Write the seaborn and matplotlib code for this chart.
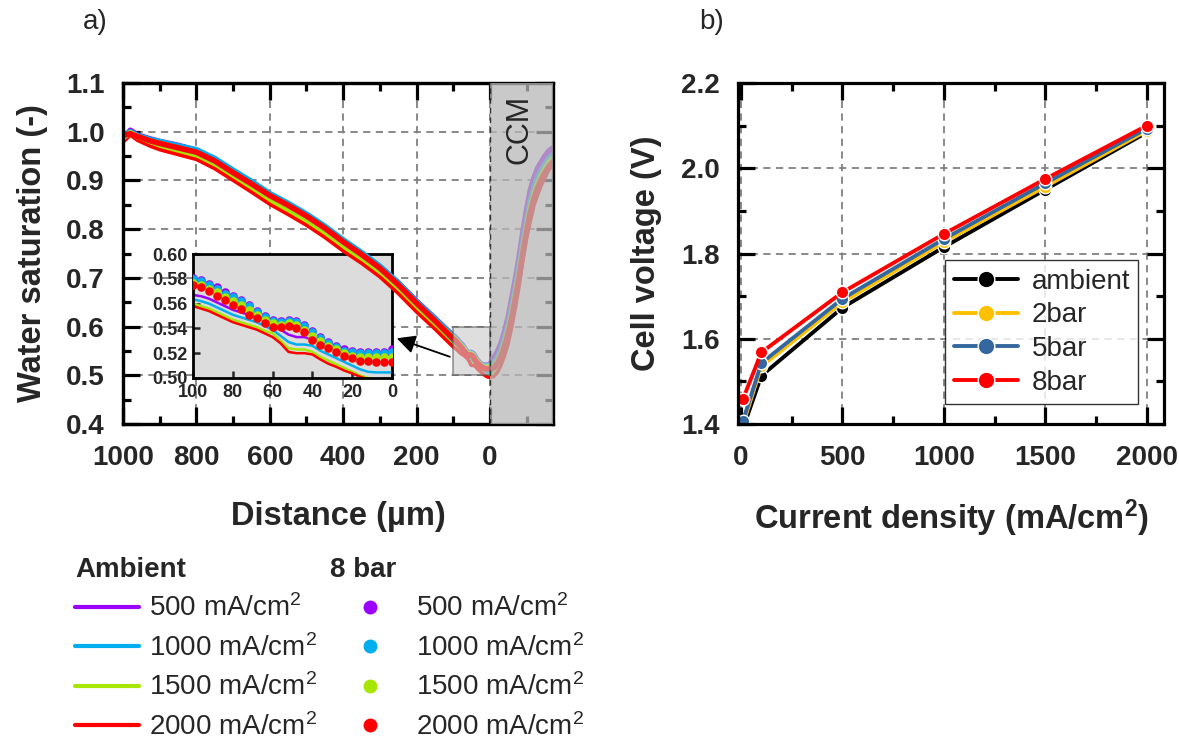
import matplotlib
matplotlib.use('Agg')
import matplotlib.pyplot as plt
from matplotlib.lines import Line2D
from matplotlib.patches import Rectangle
from matplotlib.ticker import MultipleLocator
import pandas as pd
import seaborn as sns

sns.set_style('white')
plt.rcParams['font.family'] = ['Liberation Sans', 'DejaVu Sans']
plt.rcParams['mathtext.default'] = 'regular'

# ---------------- Panel a data ----------------
dist_main = [1000, 980, 960, 925, 900, 850, 800, 750, 700, 650, 600, 550, 500, 450, 400, 350, 300, 250, 200, 150]
dist_zoom = [100, 96, 92, 88, 84, 80, 76, 72, 68, 64, 60, 56, 52, 48, 44, 40, 36, 32, 28, 24, 20, 16, 12, 8, 4, 0]
dist_ccm = [-10, -20, -30, -40, -50, -60, -70, -80, -90, -100, -110, -120, -130, -140, -150, -160, -170]

# 8 bar (dots)
b500_main = [0.985, 1.003, 0.993, 0.985, 0.980, 0.972, 0.962, 0.944, 0.920, 0.897, 0.872, 0.852, 0.830, 0.805, 0.777, 0.751, 0.723, 0.690, 0.652, 0.617]
b1000_main = [0.990, 1.000, 0.992, 0.984, 0.980, 0.971, 0.963, 0.945, 0.921, 0.898, 0.873, 0.853, 0.831, 0.806, 0.778, 0.752, 0.724, 0.690, 0.651, 0.616]
b1500_main = [0.988, 0.998, 0.990, 0.980, 0.976, 0.966, 0.957, 0.938, 0.914, 0.891, 0.866, 0.846, 0.824, 0.799, 0.771, 0.746, 0.718, 0.684, 0.646, 0.611]
b2000_main = [0.992, 0.996, 0.990, 0.981, 0.976, 0.967, 0.958, 0.940, 0.916, 0.893, 0.869, 0.849, 0.827, 0.802, 0.774, 0.748, 0.720, 0.686, 0.648, 0.612]
b500_zoom = [0.581, 0.579, 0.576, 0.573, 0.569, 0.566, 0.563, 0.559, 0.554, 0.550, 0.547, 0.546, 0.547, 0.546, 0.543, 0.538, 0.533, 0.529, 0.526, 0.523, 0.522, 0.521, 0.521, 0.521, 0.521, 0.523]
b1000_zoom = [0.580, 0.578, 0.575, 0.572, 0.568, 0.565, 0.562, 0.558, 0.553, 0.549, 0.546, 0.545, 0.546, 0.545, 0.542, 0.537, 0.532, 0.528, 0.525, 0.522, 0.521, 0.520, 0.520, 0.520, 0.520, 0.521]
b1500_zoom = [0.577, 0.575, 0.572, 0.569, 0.565, 0.562, 0.559, 0.555, 0.551, 0.547, 0.544, 0.543, 0.544, 0.543, 0.539, 0.534, 0.530, 0.526, 0.523, 0.520, 0.518, 0.517, 0.517, 0.517, 0.517, 0.517]
b2000_zoom = [0.575, 0.573, 0.570, 0.566, 0.563, 0.559, 0.556, 0.551, 0.548, 0.544, 0.541, 0.541, 0.542, 0.540, 0.537, 0.531, 0.527, 0.524, 0.521, 0.518, 0.516, 0.514, 0.514, 0.513, 0.513, 0.513]
b500_ccm = [0.535, 0.548, 0.565, 0.590, 0.620, 0.660, 0.700, 0.745, 0.795, 0.840, 0.880, 0.905, 0.925, 0.938, 0.950, 0.960, 0.966]
b1000_ccm = [0.525, 0.536, 0.552, 0.576, 0.604, 0.641, 0.680, 0.725, 0.772, 0.817, 0.857, 0.885, 0.906, 0.921, 0.934, 0.945, 0.952]
b1500_ccm = [0.518, 0.528, 0.543, 0.566, 0.593, 0.629, 0.668, 0.712, 0.760, 0.804, 0.843, 0.872, 0.894, 0.910, 0.924, 0.936, 0.944]
b2000_ccm = [0.515, 0.524, 0.538, 0.560, 0.586, 0.621, 0.660, 0.703, 0.752, 0.796, 0.834, 0.863, 0.885, 0.902, 0.916, 0.928, 0.937]

# Ambient (lines)
a500_main = [0.980, 0.999, 0.989, 0.979, 0.974, 0.965, 0.955, 0.936, 0.912, 0.889, 0.864, 0.843, 0.821, 0.796, 0.768, 0.743, 0.715, 0.681, 0.643, 0.607]
a1000_main = [0.985, 0.997, 0.988, 0.977, 0.972, 0.962, 0.952, 0.933, 0.909, 0.886, 0.861, 0.840, 0.818, 0.793, 0.765, 0.740, 0.712, 0.678, 0.640, 0.604]
a1500_main = [0.983, 0.995, 0.985, 0.974, 0.968, 0.958, 0.948, 0.929, 0.905, 0.882, 0.857, 0.836, 0.814, 0.789, 0.761, 0.736, 0.708, 0.674, 0.636, 0.600]
a2000_main = [0.978, 0.993, 0.982, 0.970, 0.963, 0.953, 0.943, 0.924, 0.900, 0.876, 0.851, 0.830, 0.808, 0.783, 0.755, 0.730, 0.702, 0.668, 0.630, 0.595]
a500_zoom = [0.567, 0.566, 0.564, 0.561, 0.558, 0.555, 0.553, 0.551, 0.549, 0.546, 0.543, 0.539, 0.535, 0.533, 0.533, 0.531, 0.529, 0.526, 0.523, 0.521, 0.519, 0.518, 0.518, 0.518, 0.518, 0.519]
a1000_zoom = [0.5635, 0.562, 0.560, 0.557, 0.554, 0.551, 0.549, 0.547, 0.545, 0.542, 0.539, 0.534, 0.529, 0.527, 0.527, 0.526, 0.522, 0.519, 0.516, 0.513, 0.510, 0.507, 0.505, 0.5045, 0.5045, 0.5045]
a1500_zoom = [0.560, 0.558, 0.556, 0.553, 0.550, 0.547, 0.545, 0.543, 0.541, 0.538, 0.536, 0.530, 0.524, 0.523, 0.523, 0.521, 0.517, 0.514, 0.511, 0.508, 0.505, 0.502, 0.500, 0.499, 0.498, 0.498]
a2000_zoom = [0.558, 0.556, 0.554, 0.551, 0.548, 0.545, 0.543, 0.541, 0.539, 0.536, 0.533, 0.528, 0.521, 0.520, 0.520, 0.519, 0.515, 0.5115, 0.509, 0.506, 0.5037, 0.501, 0.499, 0.497, 0.496, 0.496]
a500_ccm = [0.530, 0.543, 0.560, 0.585, 0.614, 0.653, 0.693, 0.738, 0.787, 0.832, 0.872, 0.898, 0.919, 0.933, 0.945, 0.955, 0.961]
a1000_ccm = [0.512, 0.522, 0.538, 0.561, 0.589, 0.626, 0.665, 0.709, 0.757, 0.802, 0.842, 0.872, 0.895, 0.911, 0.925, 0.937, 0.945]
a1500_ccm = [0.503, 0.512, 0.528, 0.550, 0.577, 0.612, 0.652, 0.696, 0.745, 0.790, 0.828, 0.859, 0.882, 0.900, 0.914, 0.927, 0.937]
a2000_ccm = [0.497, 0.505, 0.520, 0.540, 0.565, 0.600, 0.640, 0.685, 0.735, 0.780, 0.815, 0.848, 0.870, 0.890, 0.905, 0.920, 0.932]

cd_labels = ['500 mA/cm$^2$', '1000 mA/cm$^2$', '1500 mA/cm$^2$', '2000 mA/cm$^2$']
cd_colors = ['#9B00FF', '#00AEEF', '#A6E600', '#FF0000']

# ---------------- Panel b data ----------------
current = [10, 100, 500, 1000, 1500, 2000]
v_ambient = [1.39, 1.513, 1.673, 1.815, 1.950, 2.084]
v_2bar = [1.400, 1.535, 1.686, 1.827, 1.957, 2.088]
v_5bar = [1.408, 1.543, 1.694, 1.834, 1.965, 2.093]
v_8bar = [1.459, 1.568, 1.709, 1.846, 1.975, 2.100]
p_labels = ['ambient', '2bar', '5bar', '8bar']
p_colors = ['#000000', '#FFC000', '#34679E', '#FF0000']

# ---------------- figure ----------------
W, H = 1179, 740
fig = plt.figure(figsize=(W / 100, H / 100), dpi=100)
fig.patch.set_facecolor('white')

def rect(x0, y0, x1, y1):
    return [x0 / W, 1 - y1 / H, (x1 - x0) / W, (y1 - y0) / H]

grid_kw = dict(color='#808080', linestyle=(0, (4, 3)), linewidth=1.3)
TICK_FS = 20
LAB_FS = 23.5

def style_axes(ax):
    for s in ax.spines.values():
        s.set_linewidth(2.3)
        s.set_color('black')
    ax.tick_params(which='both', direction='in', top=True, right=True,
                   bottom=True, left=True, color='black')
    ax.tick_params(which='major', length=12, width=2.3, labelsize=TICK_FS)
    ax.tick_params(which='minor', length=6, width=2.3)
    ax.tick_params(axis='y', which='major', pad=13)
    ax.tick_params(axis='x', which='major', pad=15)
    for lab in ax.get_xticklabels() + ax.get_yticklabels():
        lab.set_fontweight('bold')

main_rect = rect(123, 83, 553, 424)
ax_a = fig.add_axes(main_rect)
ax_a.set_xlim(1000, -172)
ax_a.set_ylim(0.4, 1.1)
ax_a.xaxis.set_major_locator(MultipleLocator(200))
ax_a.xaxis.set_minor_locator(MultipleLocator(100))
ax_a.yaxis.set_major_locator(MultipleLocator(0.1))
ax_a.yaxis.set_minor_locator(MultipleLocator(0.05))
ax_a.set_xticks([1000, 800, 600, 400, 200, 0])
ax_a.set_xticklabels(['1000', '800', '600', '400', '200', '0'])
ax_a.yaxis.set_major_formatter(matplotlib.ticker.FormatStrFormatter('%.1f'))
ax_a.grid(True, which='major', **grid_kw)
style_axes(ax_a)
ax_a.set_xlabel('Distance (µm)', fontsize=LAB_FS, fontweight='bold')
ax_a.set_ylabel('Water saturation (-)', fontsize=LAB_FS, fontweight='bold')
ax_a.xaxis.set_label_coords(0.5, -0.225)
ax_a.yaxis.set_label_coords(-0.175, 0.5)
ax_a.set_zorder(1)

# inset
ax_in = fig.add_axes(rect(193, 254, 392, 378))
ax_in.set_zorder(2)
ax_in.set_facecolor('#DCDCDC')

# overlay for profile curves (drawn above inset)
ax_t = fig.add_axes(main_rect)
ax_t.set_zorder(3)
ax_t.patch.set_visible(False)
ax_t.set_xlim(1000, -172)
ax_t.set_ylim(0.4, 1.1)
ax_t.set_xticks([])
ax_t.set_yticks([])
for s in ax_t.spines.values():
    s.set_linewidth(2.3)
    s.set_color('black')

b_main = [b500_main, b1000_main, b1500_main, b2000_main]
b_zoom = [b500_zoom, b1000_zoom, b1500_zoom, b2000_zoom]
b_ccm = [b500_ccm, b1000_ccm, b1500_ccm, b2000_ccm]
a_main = [a500_main, a1000_main, a1500_main, a2000_main]
a_zoom = [a500_zoom, a1000_zoom, a1500_zoom, a2000_zoom]
a_ccm = [a500_ccm, a1000_ccm, a1500_ccm, a2000_ccm]
dist_all = dist_main + dist_zoom + dist_ccm

for i in range(4):
    sns.lineplot(x=dist_all, y=a_main[i] + a_zoom[i] + a_ccm[i], ax=ax_t,
                 color=cd_colors[i], lw=2.5, sort=False, estimator=None, zorder=2)
for i in range(4):
    sns.lineplot(x=dist_all, y=b_main[i] + b_zoom[i] + b_ccm[i], ax=ax_t,
                 color=cd_colors[i], lw=4.0, sort=False, estimator=None, zorder=2)

ax_t.axvspan(0, -172, facecolor='#B8B8B8', alpha=0.75, lw=0, zorder=3)
ax_t.axvline(0, color='#333333', lw=1.0, ls=(0, (4, 3)), zorder=4)
ax_t.add_patch(Rectangle((100, 0.5), -100, 0.1, facecolor='#C8C8C8', alpha=0.6,
                         edgecolor='#555555', lw=1.2, zorder=3))
ax_t.text(-82, 1.075, 'CCM', rotation=90, ha='center', va='top', fontsize=22, zorder=5)
ax_t.annotate('', xy=(254, 0.576), xytext=(109, 0.538),
              arrowprops=dict(arrowstyle='-|>', color='black', lw=1.3,
                              mutation_scale=28, shrinkA=0, shrinkB=0), zorder=5)

# inset content
for i in range(4):
    sns.lineplot(x=dist_zoom, y=a_zoom[i], ax=ax_in, color=cd_colors[i], lw=1.8,
                 sort=False, estimator=None, zorder=2)
for i in range(4):
    sns.scatterplot(x=dist_zoom, y=b_zoom[i], ax=ax_in, color=cd_colors[i], s=38,
                    linewidth=0, zorder=3)
ax_in.set_xlim(100, 0)
ax_in.set_ylim(0.50, 0.60)
ax_in.set_xticks([100, 80, 60, 40, 20, 0])
ax_in.set_yticks([0.50, 0.52, 0.54, 0.56, 0.58, 0.60])
ax_in.yaxis.set_major_formatter(matplotlib.ticker.FormatStrFormatter('%.2f'))
for s in ax_in.spines.values():
    s.set_linewidth(2.0)
    s.set_color('black')
ax_in.tick_params(direction='in', length=5, width=1.8, labelsize=13, pad=4,
                  top=False, right=False, left=True, bottom=True)
for lab in ax_in.get_xticklabels() + ax_in.get_yticklabels():
    lab.set_fontweight('bold')

# ---------------- panel b ----------------
ax_b = fig.add_axes(rect(738, 83, 1164, 424))
df_b = pd.DataFrame({
    'current': current * 4,
    'voltage': v_ambient + v_2bar + v_5bar + v_8bar,
    'pressure': sum([[p] * len(current) for p in p_labels], []),
})
sns.lineplot(data=df_b, x='current', y='voltage', hue='pressure', palette=dict(zip(p_labels, p_colors)),
             marker='o', markersize=9, markeredgecolor='white', markeredgewidth=1.0,
             lw=2.8, ax=ax_b, legend=False, sort=False, estimator=None)
ax_b.set_xlim(-15, 2085)
ax_b.set_ylim(1.4, 2.2)
ax_b.xaxis.set_major_locator(MultipleLocator(500))
ax_b.xaxis.set_minor_locator(MultipleLocator(250))
ax_b.yaxis.set_major_locator(MultipleLocator(0.2))
ax_b.yaxis.set_minor_locator(MultipleLocator(0.1))
ax_b.yaxis.set_major_formatter(matplotlib.ticker.FormatStrFormatter('%.1f'))
ax_b.grid(True, which='major', **grid_kw)
style_axes(ax_b)
ax_b.set_xlabel('Current density (mA/cm$^2$)', fontsize=LAB_FS, fontweight='bold')
ax_b.set_ylabel('Cell voltage (V)', fontsize=LAB_FS, fontweight='bold')
ax_b.xaxis.set_label_coords(0.5, -0.215)
ax_b.yaxis.set_label_coords(-0.178, 0.5)

hb = [Line2D([], [], color=c, lw=2.8, marker='o', markersize=12,
             markeredgecolor='white', markeredgewidth=1.0) for c in p_colors]
leg_b = ax_b.legend(hb, p_labels, loc='lower right', bbox_to_anchor=(0.94, 0.058),
                    borderaxespad=0, fontsize=20, frameon=True, fancybox=False,
                    edgecolor='black', handlelength=2.3, handletextpad=0.5,
                    labelspacing=0.28, borderpad=0.3)
leg_b.get_frame().set_linewidth(1.0)

# ---------------- bottom legends ----------------
h_amb = [Line2D([], [], color=c, lw=3) for c in cd_colors]
leg1 = fig.legend(h_amb, cd_labels, loc='upper left', bbox_to_anchor=(75 / W, 1 - 557 / H),
                  frameon=False, fontsize=20, title='Ambient', alignment='left',
                  title_fontproperties={'weight': 'bold', 'size': 20},
                  handlelength=2.3, handletextpad=0.35, labelspacing=0.42,
                  borderpad=0, borderaxespad=0)
h_bar = [Line2D([], [], color=c, lw=0, marker='o', markersize=9) for c in cd_colors]
leg2 = fig.legend(h_bar, cd_labels, loc='upper left', bbox_to_anchor=(330 / W, 1 - 557 / H),
                  frameon=False, fontsize=20, title='8 bar', alignment='left',
                  title_fontproperties={'weight': 'bold', 'size': 20},
                  handlelength=2.9, handletextpad=0.2, labelspacing=0.42,
                  borderpad=0, borderaxespad=0)

fig.text(95 / W, 1 - 22 / H, 'a)', fontsize=20, ha='center', va='center')
fig.text(712 / W, 1 - 22 / H, 'b)', fontsize=20, ha='center', va='center')

fig.savefig('out.png', dpi=100, facecolor='white')
